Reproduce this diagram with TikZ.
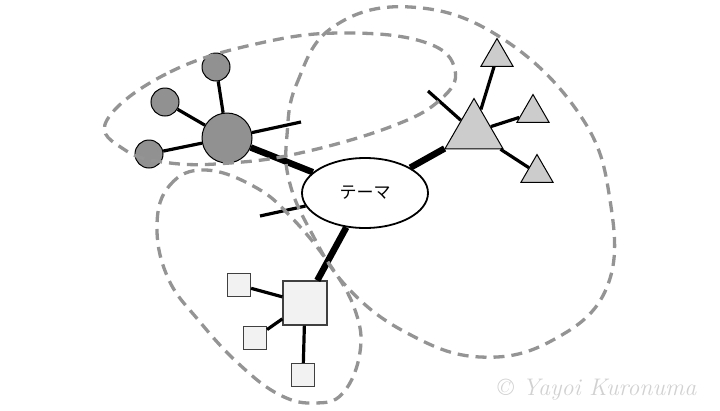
\documentclass[tikz,border=0pt]{standalone}
\usepackage{fontspec}
\newfontfamily\jpfont{Noto Sans CJK JP}
\usetikzlibrary{shapes.geometric}

\begin{document}
\begin{tikzpicture}[x=1pt,y=-1pt,
    thick line/.style={line width=6.5pt},
    thin line/.style={line width=3.2pt},
    group/.style={dash pattern=on 11pt off 7pt,line width=3.3pt,color=black!42},
    ball/.style={circle,draw,fill=black!43,inner sep=0pt,line width=1pt},
    tri/.style={regular polygon,regular polygon sides=3,draw,fill=black!20,inner sep=0pt,line width=1pt},
    box/.style={rectangle,draw=black!75,fill=black!5,inner sep=0pt,line width=1.2pt}]

  \useasboundingbox (0,0) rectangle (720,410);

  % central theme
  \node[ellipse,draw,fill=white,line width=1.8pt,minimum width=126pt,minimum height=70pt,inner sep=0pt]
      (theme) at (365,193) {\jpfont\fontsize{17}{20}\selectfont テーマ};

  % circle group
  \node[ball,minimum size=50pt] (c0) at (227,138) {};
  \node[ball,minimum size=28pt] (c1) at (216,67) {};
  \node[ball,minimum size=28pt] (c2) at (165,102) {};
  \node[ball,minimum size=28pt] (c3) at (149,154) {};
  \coordinate (c0end) at (301,122);

  % triangle group
  \node[tri,minimum size=67pt] (t0) at (474,132) {};
  \node[tri,minimum size=37pt] (t1) at (497,57) {};
  \node[tri,minimum size=37pt] (t2) at (533,113) {};
  \node[tri,minimum size=37pt] (t3) at (537,173) {};
  \coordinate (t0end) at (428,91);

  % square group
  \node[box,minimum size=44pt] (s0) at (305,303) {};
  \node[box,minimum size=23pt] (s1) at (239,285) {};
  \node[box,minimum size=23pt] (s2) at (255,338) {};
  \node[box,minimum size=23pt] (s3) at (303,375) {};

  \coordinate (themeend) at (260,216);

  % branches
  \draw[thick line] (theme) -- (c0);
  \draw[thick line] (theme) -- (t0);
  \draw[thick line] (theme) -- (s0);
  \draw[thin line] (theme) -- (themeend);

  \draw[thin line] (c0) -- (c1);
  \draw[thin line] (c0) -- (c2);
  \draw[thin line] (c0) -- (c3);
  \draw[thin line] (c0) -- (c0end);

  \draw[thin line] (t0) -- (t1);
  \draw[thin line] (t0) -- (t2);
  \draw[thin line] (t0) -- (t3);
  \draw[thin line] (t0) -- (t0end);

  \draw[thin line] (s0) -- (s1);
  \draw[thin line] (s0) -- (s2);
  \draw[thin line] (s0) -- (s3);

  % groups
  \draw[group] plot[smooth cycle,tension=0.7] coordinates {(107,120) (170,72) (265,42) (350,33) (427,43)
      (455,70) (440,100) (390,127) (300,153) (230,163) (170,163) (125,150)};
  \draw[group] plot[smooth cycle,tension=0.7] coordinates {(287,135) (297,83) (333,27) (410,7) (500,37)
      (580,115) (610,200) (607,287) (553,340) (480,357) (407,333) (347,287) (310,230) (289,180)};
  \draw[group] plot[smooth cycle,tension=0.7] coordinates {(157,225) (170,185) (205,170) (255,187) (292,218)
      (330,265) (355,310) (360,352) (343,393) (315,403) (280,395) (240,365) (200,322) (168,278)};

  % watermark
  \node[anchor=base,text=black!18,inner sep=0pt] (mark) at (597,395)
      {\addfontfeature{LetterSpace=9}\fontsize{24}{26}\selectfont\itshape © Yayoi Kuronuma};
\end{tikzpicture}
\end{document}
